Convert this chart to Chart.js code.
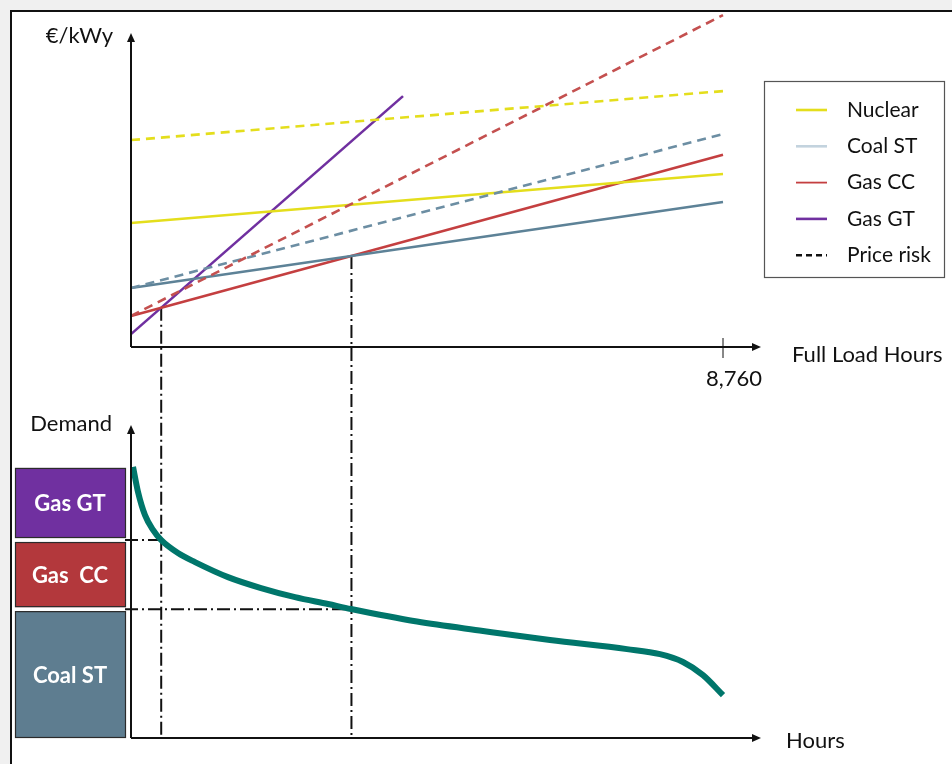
<!DOCTYPE html>
<html>
<head>
<meta charset="utf-8">
<script src="https://cdn.jsdelivr.net/npm/chart.js@4.4.1/dist/chart.umd.min.js"></script>
<style>
  html, body { margin: 0; padding: 0; background: #f0f0f0; }
  canvas { display: block; }
</style>
</head>
<body>
<canvas id="screening" width="952" height="764"></canvas>
<script>
// values (cost in arbitrary €/kWy units, demand in % of axis)
var hoursFull = [0, 8760];
var nuclearCost = [39.5, 55.1];
var nuclearRiskCost = [65.9, 81.5];
var coalCost = [18.8, 46.2];
var coalRiskCost = [18.8, 67.8];
var gasCCCost = [9.9, 61.2];
var gasCCRiskCost = [9.9, 105.7];
var gasGTHours = [0, 4025];
var gasGTCost = [4.1, 79.9];

var loadHours = [30, 104, 207, 326, 444, 695, 947, 1435, 1924, 2427, 2915, 3255, 4232, 5209, 6200, 7339, 7828, 8168, 8464, 8760];
var loadDemand = [86.6, 78.6, 71.2, 66.5, 63.3, 59.1, 56.2, 51.4, 47.9, 45.0, 42.8, 41.2, 37.2, 34.2, 31.3, 28.4, 26.8, 24.3, 20.1, 13.7];

var legendNames = ['Nuclear', 'Coal ST', 'Gas CC', 'Gas GT', 'Price risk'];
var blockNames = ['Gas GT', 'Gas  CC', 'Coal ST'];
var xTickLabel = '8,760';

///colors
var col = {
  nuclear: '#e4de1c', coal: '#5d8297', coalRisk: '#6c8ea3', coalKey: '#c3d3de',
  gasCC: '#c43f40', gasCCRisk: '#c4504f', gasGT: '#7030a0', load: '#00766b',
  blocks: ['#7030a0', '#b3383c', '#5e7d90']
};
var legendColors = [col.nuclear, col.coalKey, col.gasCC, col.gasGT, '#111'];
var FONT = '"Lato", "Open Sans", sans-serif';

// layout of the two panels (pixels)
var W = 952, H = 764;
var xZero = 131, xEnd = 723;
var costZero = 347, costTop = 33;
var demZero = 738, demTop = 425;

var pxPerHour = (xEnd - xZero) / 8760;
var pxPerCost = (costZero - costTop) / 100;
var pxPerDem = (demZero - demTop) / 100;

function slopeOf(hs, vs) { return (vs[1] - vs[0]) / (hs[1] - hs[0]); }
function crossing(h1, v1, h2, v2) {
  var s1 = slopeOf(h1, v1), s2 = slopeOf(h2, v2);
  var a1 = v1[0] - s1 * h1[0], a2 = v2[0] - s2 * h2[0];
  var h = (a2 - a1) / (s1 - s2);
  return { hour: h, cost: a1 + s1 * h };
}
function demandAt(h) {
  for (var i = 1; i < loadHours.length; i++) {
    if (h <= loadHours[i]) {
      var t = (h - loadHours[i - 1]) / (loadHours[i] - loadHours[i - 1]);
      return loadDemand[i - 1] + t * (loadDemand[i] - loadDemand[i - 1]);
    }
  }
  return loadDemand[loadDemand.length - 1];
}

var breaks = [
  crossing(gasGTHours, gasGTCost, hoursFull, gasCCCost),
  crossing(hoursFull, gasCCCost, hoursFull, coalCost)
];
breaks.forEach(function(b) { b.demand = demandAt(b.hour); });

function pts(hs, vs) {
  return hs.map(function(h, i) { return { x: h, y: vs[i] }; });
}
function costLine(label, hs, vs, color, dashed) {
  return {
    label: label, data: pts(hs, vs), yAxisID: 'yc',
    borderColor: color, borderWidth: 2.6, borderDash: dashed ? [9, 6] : [],
    pointRadius: 0, tension: 0, fill: false
  };
}

var datasets = [
  costLine('Nuclear price risk', hoursFull, nuclearRiskCost, col.nuclear, true),
  costLine('Gas CC price risk', hoursFull, gasCCRiskCost, col.gasCCRisk, true),
  costLine('Coal ST price risk', hoursFull, coalRiskCost, col.coalRisk, true),
  costLine('Nuclear', hoursFull, nuclearCost, col.nuclear, false),
  costLine('Coal ST', hoursFull, coalCost, col.coal, false),
  costLine('Gas CC', hoursFull, gasCCCost, col.gasCC, false),
  costLine('Gas GT', gasGTHours, gasGTCost, col.gasGT, false),
  {
    label: 'Demand', data: pts(loadHours, loadDemand), yAxisID: 'yd',
    borderColor: col.load, borderWidth: 6, borderCapStyle: 'butt',
    pointRadius: 0, cubicInterpolationMode: 'monotone', fill: false
  }
];

function arrowLine(c, x1, y1, x2, y2) {
  var ang = Math.atan2(y2 - y1, x2 - x1);
  var hl = 9, hw = 4;
  var bx = x2 - hl * Math.cos(ang), by = y2 - hl * Math.sin(ang);
  c.beginPath(); c.moveTo(x1, y1); c.lineTo(bx, by); c.stroke();
  c.beginPath();
  c.moveTo(x2, y2);
  c.lineTo(bx + hw * Math.sin(ang), by - hw * Math.cos(ang));
  c.lineTo(bx - hw * Math.sin(ang), by + hw * Math.cos(ang));
  c.closePath(); c.fill();
}

var diagram = {
  id: 'diagram',
  beforeDraw: function(chart) {
    var c = chart.ctx;
    c.save();
    c.fillStyle = '#f0f0f0'; c.fillRect(0, 0, chart.width, chart.height);
    c.fillStyle = '#ffffff'; c.fillRect(10, 10, chart.width - 10, chart.height - 10);
    c.strokeStyle = '#111'; c.lineWidth = 2;
    c.beginPath(); c.moveTo(11, chart.height); c.lineTo(11, 11); c.lineTo(chart.width, 11); c.stroke();
    c.restore();
  },
  beforeDatasetsDraw: function(chart) {
    var c = chart.ctx, x = chart.scales.x, yc = chart.scales.yc, yd = chart.scales.yd;
    var ax = x.getPixelForValue(0);
    c.save();
    c.strokeStyle = '#111'; c.lineWidth = 2;
    c.setLineDash([13, 4, 2, 4]);
    breaks.forEach(function(b) {
      var px = x.getPixelForValue(b.hour);
      c.beginPath();
      c.moveTo(px, yc.getPixelForValue(b.cost));
      c.lineTo(px, yd.getPixelForValue(0));
      c.stroke();
      var py = yd.getPixelForValue(b.demand);
      c.beginPath(); c.moveTo(ax - 6, py); c.lineTo(px, py); c.stroke();
    });
    c.restore();
  },
  afterDatasetsDraw: function(chart) {
    var c = chart.ctx, x = chart.scales.x, yc = chart.scales.yc, yd = chart.scales.yd;
    var ax = x.getPixelForValue(0), xe = x.getPixelForValue(8760);
    c.save();
    // axes with arrow heads
    c.strokeStyle = '#111'; c.fillStyle = '#111'; c.lineWidth = 2;
    var c0 = yc.getPixelForValue(0), d0 = yd.getPixelForValue(0);
    arrowLine(c, ax, c0, ax, yc.getPixelForValue(100));
    arrowLine(c, ax, c0, xe + 38, c0);
    arrowLine(c, ax, d0, ax, yd.getPixelForValue(100));
    arrowLine(c, ax, d0, xe + 38, d0);
    c.lineWidth = 1;
    c.beginPath(); c.moveTo(xe, c0 - 9); c.lineTo(xe, c0 + 11); c.stroke();

    // axis texts
    c.fillStyle = '#111';
    c.font = '22px ' + FONT;
    c.textBaseline = 'middle';
    c.textAlign = 'right';
    c.fillText('€/kWy', ax - 18, yc.getPixelForValue(100) + 3);
    c.fillText('Demand', ax - 19, yd.getPixelForValue(100) - 1);
    c.textAlign = 'center';
    c.fillText(xTickLabel, xe + 11, c0 + 32);
    c.textAlign = 'left';
    c.fillText('Full Load Hours', xe + 69, c0 + 8);
    c.fillText('Hours', xe + 63, d0 + 3);

    // merit-order blocks next to the demand axis
    var edges = [loadDemand[0], breaks[0].demand, breaks[1].demand, 0];
    for (var i = 0; i < 3; i++) {
      var top = yd.getPixelForValue(edges[i]) + (i ? 2 : 1);
      var bot = yd.getPixelForValue(edges[i + 1]) - (i < 2 ? 2 : 0);
      c.fillStyle = col.blocks[i];
      c.fillRect(15, top, 111, bot - top);
      c.strokeStyle = '#2b2b2b'; c.lineWidth = 1.2;
      c.strokeRect(15.5, top + 0.5, 110, bot - top - 1);
      c.fillStyle = '#ffffff';
      c.font = 'bold 22px ' + FONT;
      c.textAlign = 'center';
      c.fillText(blockNames[i], 70, (top + bot) / 2 + 1);
    }

    // legend
    c.strokeStyle = '#555'; c.lineWidth = 1.2;
    c.strokeRect(764.5, 81.5, 180, 196);
    c.font = '21px ' + FONT;
    c.textAlign = 'left';
    for (var k = 0; k < legendNames.length; k++) {
      var ry = 110 + k * 36.3;
      c.strokeStyle = legendColors[k];
      c.lineWidth = k === 2 ? 1.8 : 2.6;
      c.setLineDash(k === 4 ? [6, 4] : []);
      c.beginPath(); c.moveTo(796, ry); c.lineTo(827, ry); c.stroke();
      c.setLineDash([]);
      c.fillStyle = '#111';
      c.fillText(legendNames[k], 847, ry);
    }
    c.restore();
  }
};

new Chart(document.getElementById('screening'), {
  type: 'line',
  data: { datasets: datasets },
  options: {
    responsive: false,
    animation: false,
    events: [],
    layout: { padding: 0 },
    plugins: { legend: { display: false }, tooltip: { enabled: false } },
    scales: {
      x: { type: 'linear', display: false, min: -xZero / pxPerHour, max: (W - xZero) / pxPerHour },
      yc: { type: 'linear', display: false, min: -(H - costZero) / pxPerCost, max: costZero / pxPerCost },
      yd: { type: 'linear', display: false, min: -(H - demZero) / pxPerDem, max: demZero / pxPerDem }
    }
  },
  plugins: [diagram]
});
</script>
</body>
</html>
